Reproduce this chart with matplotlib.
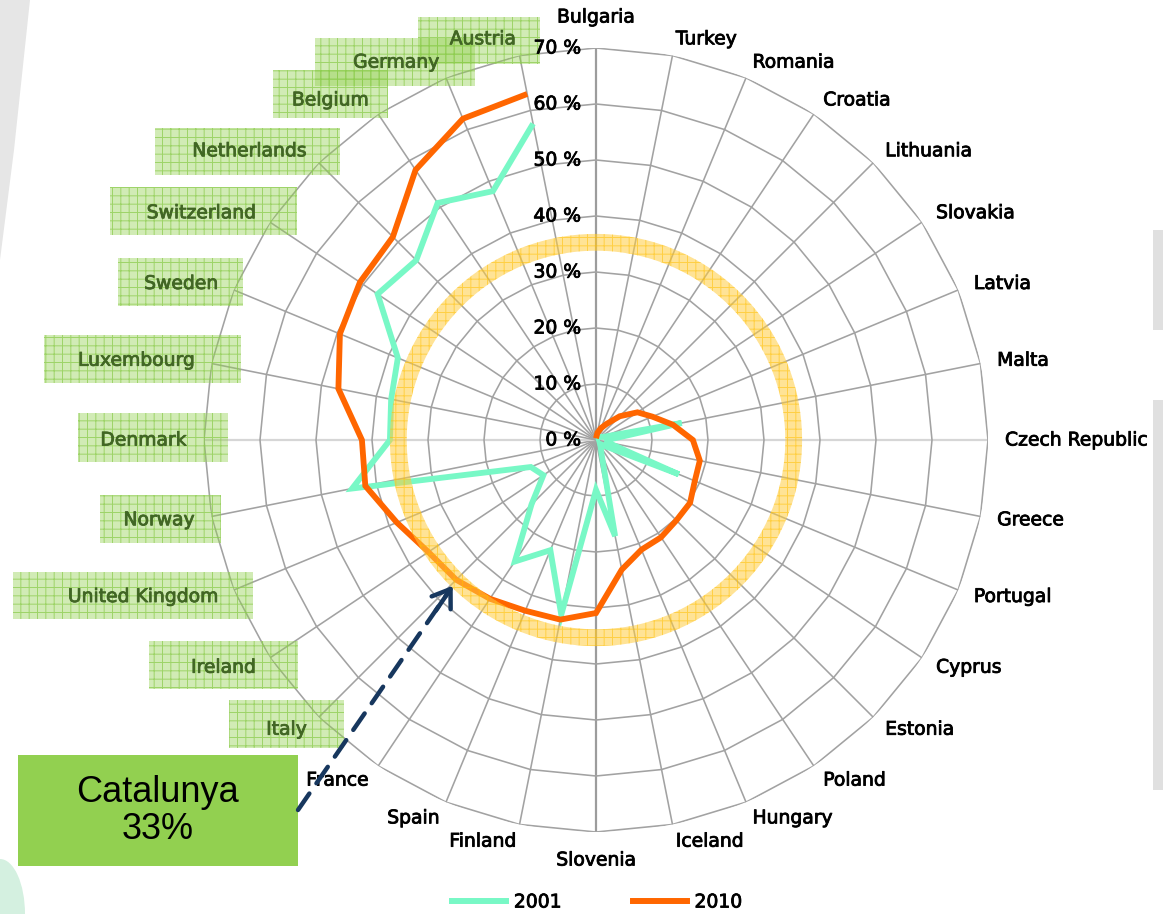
import numpy as np
import matplotlib
matplotlib.use("Agg")
import matplotlib.pyplot as plt
from matplotlib.patches import Rectangle, Polygon, Ellipse
from matplotlib.lines import Line2D
import matplotlib.patheffects as pe

# ---------------- data ----------------
categories = ["Bulgaria", "Turkey", "Romania", "Croatia", "Lithuania", "Slovakia",
              "Latvia", "Malta", "Czech Republic", "Greece", "Portugal", "Cyprus",
              "Estonia", "Poland", "Hungary", "Iceland", "Slovenia", "Finland",
              "Spain", "France", "Italy", "Ireland", "United Kingdom", "Norway",
              "Denmark", "Luxembourg", "Sweden", "Switzerland", "Netherlands",
              "Belgium", "Germany", "Austria"]
values_2001 = [0.5, 0.5, 0.5, 0.5, 0.5, 1.0, 1.5, 15.6, 2.0, 2.0, 16.0, 2.0,
               1.0, 1.5, 2.5, 17.5, 8.9, 31.8, 21.3, 26.1, 16.3, 11.3, 12.6, 44.4,
               36.8, 37.3, 38.3, 46.9, 45.4, 50.9, 48.1, 57.6]
values_2010 = [0.3, 1.3, 2.3, 3.5, 6.0, 8.9, 10.9, 14.0, 17.3, 18.9, 19.1, 20.2,
               20.3, 20.9, 21.2, 23.6, 30.9, 32.7, 33.0, 34.1, 35.3, 36.0, 38.5, 42.0,
               41.8, 46.9, 49.5, 50.7, 51.3, 58.0, 62.1, 63.0]
series_labels = ["2001", "2010"]
radial_ticks = [0, 10, 20, 30, 40, 50, 60, 70]
radial_tick_labels = ["0 %", "10 %", "20 %", "30 %", "40 %", "50 %", "60 %", "70 %"]
boxed_labels = ["Italy", "Ireland", "United Kingdom", "Norway", "Denmark",
                "Luxembourg", "Sweden", "Switzerland", "Netherlands", "Belgium",
                "Germany", "Austria"]
ring_value = 35.3
callout_text = "Catalunya\n33%"

# ---------------- layout / style ----------------
W, H = 1163, 914
CX, CY, R = 596, 440, 392
GREEN = "#78f8c6"
ORANGE = "#ff6600"
GRID = "#a2a2a2"
BOX_FACE = (0.573, 0.816, 0.314, 0.42)
BOX_HATCH = (0.55, 0.80, 0.30, 0.75)
LABEL_GREEN = "#416624"
NAVY = "#17375e"

# box rectangles in figure pixels (x0, ytop, x1, ybottom)
box_rects = {
    "Austria": (418, 17, 540, 64), "Germany": (315, 38, 475, 86),
    "Belgium": (273, 70, 388, 118), "Netherlands": (155, 128, 340, 175),
    "Switzerland": (110, 187, 297, 235), "Sweden": (118, 258, 243, 306),
    "Luxembourg": (44, 335, 241, 383), "Denmark": (78, 413, 228, 462),
    "Norway": (100, 495, 221, 543), "United Kingdom": (13, 572, 253, 619),
    "Ireland": (149, 641, 298, 689), "Italy": (229, 700, 344, 748),
}

plt.rcParams["hatch.linewidth"] = 0.7
plt.rcParams["font.family"] = ["DejaVu Sans"]

fig = plt.figure(figsize=(W / 100, H / 100), dpi=100)
fig.patch.set_facecolor("white")

# faint background decorations at the edges
deco = [
    Polygon([(0, 1), (30 / W, 1), (14 / W, 1 - 150 / H), (0, 1 - 260 / H)],
            closed=True, transform=fig.transFigure, facecolor="#e6e6e6",
            edgecolor="none", zorder=-5),
    Rectangle((1153 / W, 1 - 330 / H), 10 / W, 100 / H, transform=fig.transFigure,
              facecolor="#e0e0e0", edgecolor="none", zorder=-5),
    Rectangle((1153 / W, 1 - 790 / H), 10 / W, 390 / H, transform=fig.transFigure,
              facecolor="#e0e0e0", edgecolor="none", zorder=-5),
    Ellipse((0, 0), 50 / W, 110 / H, transform=fig.transFigure,
            facecolor="#d4f0e0", edgecolor="none", zorder=-5),
]
for p in deco:
    fig.add_artist(p)

ax = fig.add_axes([(CX - R) / W, (H - CY - R) / H, 2 * R / W, 2 * R / H],
                  projection="polar")
ax.set_theta_zero_location("N")
ax.set_theta_direction(-1)
ax.set_ylim(0, radial_ticks[-1])
ax.grid(False)
ax.set_xticks([])
ax.set_yticks([])
ax.spines["polar"].set_visible(False)
ax.patch.set_alpha(0)

n = len(categories)
theta = np.arange(n) * 2 * np.pi / n
theta_closed = np.append(theta, theta[0])
rmax = radial_ticks[-1]

# spokes
for i, th in enumerate(theta):
    if i in (n // 4, 3 * n // 4):
        col, lw = "#d6d6d6", 1.6
    elif i in (0, n // 2):
        col, lw = "#9c9c9c", 1.6
    else:
        col, lw = GRID, 1.15
    ax.plot([th, th], [0, rmax], color=col, lw=lw, zorder=1)

# polygon rings
for t in radial_ticks[1:]:
    ax.plot(theta_closed, [t] * (n + 1), color=GRID, lw=1.15, zorder=1)

# data lines (not closed)
ax.plot(theta, values_2001, color=GREEN, lw=4.2, zorder=3,
        solid_joinstyle="miter", solid_capstyle="butt")
ax.plot(theta, values_2010, color=ORANGE, lw=4.2, zorder=3,
        solid_joinstyle="miter", solid_capstyle="butt")

# target ring
tf = np.linspace(0, 2 * np.pi, 721)
ax.fill_between(tf, ring_value - 1.5, ring_value + 1.5,
                facecolor=(1.0, 0.80, 0.25, 0.55), edgecolor=(1.0, 0.75, 0.0, 0.55),
                hatch="++", linewidth=0, zorder=4)

def bolden(color):
    return [pe.withStroke(linewidth=0.6, foreground=color)]

# radial tick labels
for t, lbl in zip(radial_ticks, radial_tick_labels):
    ax.annotate(lbl, xy=(0, t), xytext=(-15, 0), textcoords="offset pixels",
                ha="right", va="center", fontsize=13.5, color="black", zorder=6,
                path_effects=bolden("black"))

# category labels
for i, (th, name) in enumerate(zip(theta, categories)):
    deg = np.degrees(th)
    off = 17
    if np.isclose(deg, 0):
        ha, off = "center", 31
    elif np.isclose(deg, 180):
        ha, off = "center", 28
    elif deg < 180:
        ha = "left"
    else:
        ha = "right"
    dx, dy = off * np.sin(th), off * np.cos(th)
    col = LABEL_GREEN if name in boxed_labels else "black"
    ax.annotate(name, xy=(th, rmax), xytext=(dx, dy), textcoords="offset pixels",
                ha=ha, va="center", fontsize=13.5, color=col, zorder=7,
                annotation_clip=False, path_effects=bolden(col))

# green hatched label boxes
for name in boxed_labels:
    x0, y0, x1, y1 = box_rects[name]
    rect = Rectangle((x0 / W, 1 - y1 / H), (x1 - x0) / W, (y1 - y0) / H,
                     transform=fig.transFigure, facecolor=BOX_FACE,
                     edgecolor=BOX_HATCH, hatch="++", linewidth=0,
                     clip_on=False, zorder=5)
    ax.add_patch(rect)

# callout box
cb = Rectangle((18 / W, 1 - 866 / H), 280 / W, 111 / H, transform=fig.transFigure,
               facecolor="#92d050", edgecolor="none", clip_on=False, zorder=5)
ax.add_patch(cb)
fig.text(158 / W, 1 - 811 / H, callout_text, ha="center", va="center",
         fontsize=26, family="Liberation Sans", linespacing=1.05, color="black",
         zorder=8)

# dashed arrow to the ring
tip = (np.deg2rad(224.5), ring_value + 1.2)
ax.annotate("", xy=tip, xycoords="data", xytext=(298 / W, 1 - 810 / H),
            textcoords="figure fraction",
            arrowprops=dict(arrowstyle="-", lw=3.2, color=NAVY,
                            linestyle=(0, (4.5, 2.8)), shrinkA=0, shrinkB=6),
            zorder=8, annotation_clip=False)
ax.annotate("", xy=tip, xycoords="data", xytext=(-17, -25),
            textcoords="offset pixels",
            arrowprops=dict(arrowstyle="->,head_length=0.8,head_width=0.55",
                            lw=3.2, color=NAVY, shrinkA=0, shrinkB=0,
                            mutation_scale=15),
            zorder=8, annotation_clip=False)

# legend
handles = [Line2D([], [], color=GREEN, lw=4.3), Line2D([], [], color=ORANGE, lw=4.3)]
leg = fig.legend(handles, series_labels, loc="center", bbox_to_anchor=(597 / W, 12 / H),
                 ncol=2, frameon=False, fontsize=13.5, handlelength=2.9,
                 handletextpad=0.4, columnspacing=3.8)
for txt in leg.get_texts():
    txt.set_path_effects(bolden("black"))

fig.savefig("out.png", dpi=100, facecolor="white")
